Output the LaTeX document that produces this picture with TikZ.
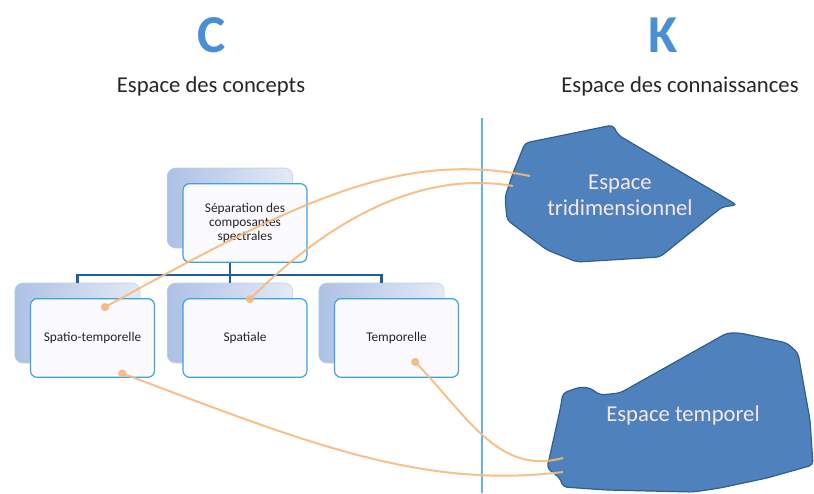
\documentclass[tikz,border=0pt]{standalone}
\usepackage{fontspec}
\setmainfont{Carlito}
\usepackage{tikz}
\usetikzlibrary{arrows.meta,positioning}

\definecolor{titleblue}{RGB}{74,143,212}
\definecolor{boxline}{RGB}{61,162,224}
\definecolor{treeblue}{RGB}{31,95,159}
\definecolor{blobfill}{RGB}{79,129,189}
\definecolor{blobline}{RGB}{46,95,143}
\definecolor{linkorange}{RGB}{248,184,122}
\definecolor{blobtext}{RGB}{246,230,238}
\definecolor{backleft}{RGB}{172,193,229}
\definecolor{backright}{RGB}{228,234,247}

\begin{document}
\begin{tikzpicture}[x=0.75pt, y=-0.75pt,
  every node/.style={font=\fontsize{10}{10.5}\selectfont, text=black!85},
  frontbox/.style={draw=boxline, line width=0.9pt, fill=white!98!blue, rounded corners=5pt,
    minimum width=93pt, minimum height=59pt, align=center},
  backbox/.style={draw=backleft!80!black!50, left color=backleft, right color=backright,
    rounded corners=6pt, minimum width=94pt, minimum height=60pt},
  tree/.style={draw=treeblue, line width=1.9pt},
  blob/.style={fill=blobfill, draw=blobline, line width=0.9pt, rounded corners=3pt},
  blobtxt/.style={font=\fontsize{17}{19.5}\selectfont, text=blobtext, align=center},
  heading/.style={font=\fontsize{40}{40}\selectfont\bfseries, text=titleblue, anchor=base},
  space/.style={font=\fontsize{17}{17}\selectfont, anchor=base},
  link/.style={draw=linkorange, line width=1.5pt, opacity=0.9, {Circle[length=6pt]}-}]

  \useasboundingbox (0,0) rectangle (814,493);

  % Titles
  \node[heading] (c) at (212,52) {C};
  \node[heading] (k) at (663,52) {K};
  \node[space] (concepts) at (211,92) {Espace des concepts};
  \node[space] (connaissances) at (680,92) {Espace des connaissances};

  % divider
  \draw[draw=boxline!80, line width=0.9pt] (482,118) -- (482,493);

  % knowledge blobs
  \path[blob] (525,143) -- (613,125) -- (618,135) -- (737,205) -- (722,207)
    -- (660,257) -- (577,262) -- (547,250) -- (507,220) -- (505,197) -- (513,173) -- cycle;
  \path[blob] (563,393) -- (580,387) -- (590,388) -- (600,395) -- (620,393) -- (727,333)
    -- (740,333) -- (787,343) -- (798,353) -- (810,420) -- (813,465) -- (767,478)
    -- (720,488) -- (693,492) -- (607,490) -- (563,487) -- (560,478) -- (547,468)
    -- (550,455) -- (560,410) -- cycle;
  \node[blobtxt] (tri) at (620,195) {Espace\\tridimensionnel};
  \node[blobtxt] (temp) at (683,415) {Espace temporel};

  % concept tree
  \node[backbox] (sep-back) at (230,208) {};
  \node[frontbox] (sep) at ([shift={(15,15)}]sep-back) {Séparation des\\composantes\\spectrales};
  \foreach \name/\x/\txt in {spt/77.5/Spatio-temporelle, spa/230/Spatiale, tem/381.5/Temporelle} {
    \node[backbox] (\name-back) at (\x,323) {};
    \node[frontbox] (\name) at ([shift={(15,15)}]\name-back) {\txt};
  }

  \path (sep-back.south |- sep.south) ++(0,12) coordinate (hub);
  \draw[tree] (sep-back.south |- sep.south) -- (hub);
  \draw[tree] (hub) -| (spt-back.north);
  \draw[tree] (hub) -| (tem-back.north);
  \draw[tree] (hub) -- (spa-back.north);

  % links between concepts and knowledge
  \coordinate (spt-top) at ([shift={(9,-29)}]spt.center);
  \coordinate (spa-top) at ([shift={(2,-36)}]spa.center);
  \coordinate (spt-bot) at ([shift={(26,34)}]spt.center);
  \coordinate (tem-dot) at ([shift={(16,21)}]tem.center);
  \coordinate (tri-a) at ([shift={(-90,-19)}]tri.center);
  \coordinate (tri-b) at ([shift={(-107,-9)}]tri.center);
  \coordinate (temp-a) at ([shift={(-120,57)}]temp.center);
  \coordinate (temp-b) at ([shift={(-120,43)}]temp.center);

  \draw[link] (spt-top) .. controls (300,200) and (400,150) .. (tri-a);
  \draw[link] (spa-top) .. controls (330,220) and (420,170) .. (tri-b);
  \draw[link] (spt-bot) .. controls (300,440) and (420,490) .. (temp-a);
  \draw[link] (tem-dot) .. controls (470,420) and (500,475) .. (temp-b);

\end{tikzpicture}
\end{document}
